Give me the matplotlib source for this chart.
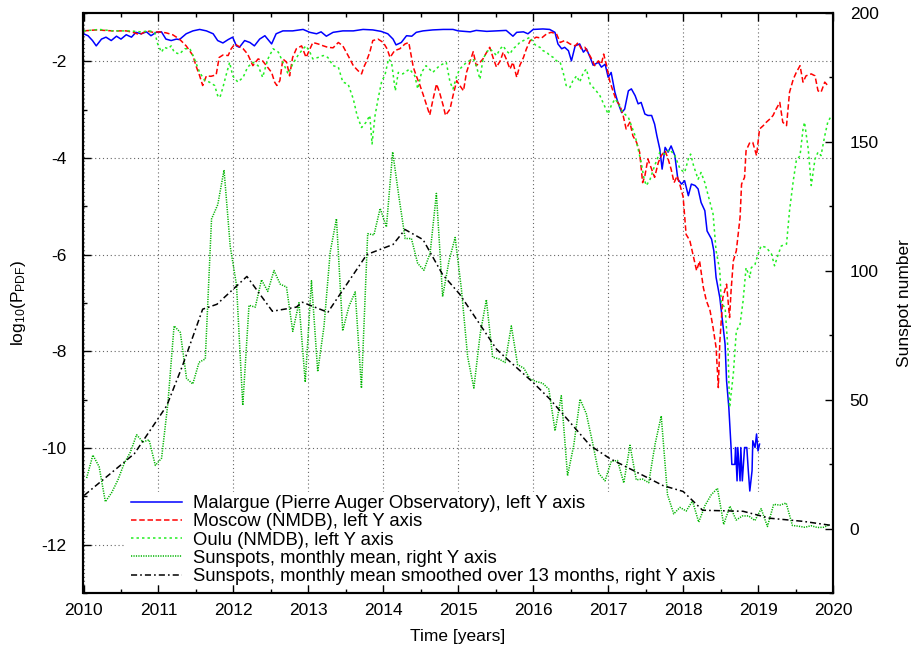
import matplotlib
matplotlib.use('Agg')
import matplotlib.pyplot as plt
from matplotlib.ticker import MultipleLocator, FuncFormatter
from matplotlib.patches import Rectangle
import numpy as np

plt.rcParams['font.family'] = ['Liberation Sans', 'DejaVu Sans']
plt.rcParams['mathtext.fontset'] = 'custom'
plt.rcParams['mathtext.rm'] = 'Liberation Sans'
plt.rcParams['mathtext.default'] = 'regular'

# ---------------- data ----------------
mal_t = [2010.00, 2010.06, 2010.12, 2010.17, 2010.24, 2010.30, 2010.37, 2010.44, 2010.50, 2010.57,
         2010.64, 2010.70, 2010.77, 2010.84, 2010.90, 2010.97, 2011.04, 2011.10, 2011.17, 2011.24,
         2011.28, 2011.37, 2011.46, 2011.55, 2011.64, 2011.73, 2011.79, 2011.86, 2011.93, 2011.99,
         2012.04, 2012.08, 2012.15, 2012.22, 2012.28, 2012.35, 2012.42, 2012.51, 2012.57, 2012.66,
         2012.79, 2012.93, 2013.02, 2013.11, 2013.17, 2013.24, 2013.33, 2013.46, 2013.60, 2013.73,
         2013.86, 2013.97, 2014.06, 2014.13, 2014.17, 2014.24, 2014.31, 2014.38, 2014.44, 2014.53,
         2014.66, 2014.80, 2014.93, 2015.00, 2015.16, 2015.24, 2015.38, 2015.51, 2015.64, 2015.73,
         2015.78, 2015.87, 2015.93, 2016.00, 2016.13, 2016.22, 2016.29, 2016.33, 2016.38, 2016.42,
         2016.47, 2016.51, 2016.56, 2016.62, 2016.67, 2016.71, 2016.76, 2016.80, 2016.87, 2016.91,
         2016.96, 2017.00, 2017.04, 2017.09, 2017.13, 2017.18, 2017.22, 2017.27, 2017.31, 2017.36,
         2017.40, 2017.44, 2017.49, 2017.53, 2017.58, 2017.62, 2017.65, 2017.69, 2017.72, 2017.76,
         2017.80, 2017.84, 2017.89, 2017.93, 2017.98, 2018.02, 2018.07, 2018.11, 2018.16, 2018.20,
         2018.24, 2018.29, 2018.32, 2018.38, 2018.41, 2018.44, 2018.49, 2018.53, 2018.56, 2018.58,
         2018.61, 2018.64, 2018.65, 2018.69, 2018.70, 2018.72, 2018.73, 2018.76, 2018.77, 2018.79,
         2018.82, 2018.85, 2018.87, 2018.89, 2018.92, 2018.93, 2018.96, 2018.98, 2019.00, 2019.02]
mal_v = [-1.43, -1.47, -1.57, -1.68, -1.54, -1.50, -1.57, -1.48, -1.54, -1.45,
         -1.50, -1.40, -1.43, -1.39, -1.47, -1.40, -1.39, -1.54, -1.57, -1.54,
         -1.55, -1.43, -1.37, -1.34, -1.37, -1.43, -1.57, -1.62, -1.55, -1.50,
         -1.68, -1.71, -1.57, -1.61, -1.68, -1.54, -1.47, -1.64, -1.43, -1.37,
         -1.37, -1.34, -1.40, -1.43, -1.39, -1.48, -1.40, -1.37, -1.37, -1.34,
         -1.35, -1.38, -1.43, -1.54, -1.66, -1.61, -1.47, -1.48, -1.40, -1.37,
         -1.35, -1.34, -1.34, -1.37, -1.39, -1.36, -1.38, -1.37, -1.36, -1.48,
         -1.40, -1.39, -1.43, -1.34, -1.33, -1.34, -1.40, -1.64, -1.74, -1.71,
         -1.78, -1.99, -1.68, -1.64, -1.81, -1.74, -1.92, -2.08, -2.02, -2.12,
         -2.06, -2.33, -2.23, -2.64, -2.85, -3.06, -2.99, -2.61, -2.57, -2.71,
         -2.88, -2.85, -3.09, -3.12, -3.12, -3.30, -3.54, -3.82, -4.23, -3.78,
         -3.88, -3.75, -3.95, -4.44, -4.54, -4.47, -4.78, -4.54, -4.57, -4.64,
         -4.92, -5.09, -5.51, -5.68, -5.92, -6.47, -6.89, -7.44, -7.85, -8.61,
         -9.16, -9.99, -10.34, -10.34, -9.99, -10.68, -9.99, -10.68, -9.99, -10.68,
         -9.99, -9.99, -10.47, -10.89, -10.47, -9.85, -9.99, -9.71, -10.06, -9.92]

mos_t = [2010.00, 2010.17, 2010.39, 2010.57, 2010.66, 2010.75, 2010.84, 2010.93, 2011.01, 2011.10,
         2011.19, 2011.28, 2011.37, 2011.46, 2011.50, 2011.55, 2011.59, 2011.64, 2011.70, 2011.77,
         2011.81, 2011.86, 2011.93, 2011.97, 2012.02, 2012.06, 2012.13, 2012.19, 2012.26, 2012.33,
         2012.39, 2012.44, 2012.51, 2012.55, 2012.58, 2012.62, 2012.66, 2012.71, 2012.75, 2012.79,
         2012.84, 2012.91, 2012.97, 2013.06, 2013.13, 2013.20, 2013.26, 2013.33, 2013.40, 2013.46,
         2013.53, 2013.60, 2013.66, 2013.71, 2013.74, 2013.77, 2013.82, 2013.86, 2013.93, 2014.00,
         2014.05, 2014.09, 2014.15, 2014.22, 2014.29, 2014.34, 2014.40, 2014.44, 2014.49, 2014.53,
         2014.58, 2014.62, 2014.66, 2014.71, 2014.75, 2014.80, 2014.83, 2014.89, 2014.93, 2014.98,
         2015.02, 2015.07, 2015.11, 2015.16, 2015.20, 2015.24, 2015.29, 2015.33, 2015.38, 2015.42,
         2015.47, 2015.51, 2015.56, 2015.60, 2015.64, 2015.69, 2015.73, 2015.78, 2015.82, 2015.87,
         2015.91, 2015.96, 2016.00, 2016.04, 2016.11, 2016.18, 2016.24, 2016.31, 2016.36, 2016.42,
         2016.49, 2016.56, 2016.60, 2016.64, 2016.69, 2016.73, 2016.78, 2016.82, 2016.87, 2016.91,
         2016.94, 2016.98, 2017.02, 2017.07, 2017.11, 2017.16, 2017.20, 2017.24, 2017.29, 2017.33,
         2017.38, 2017.42, 2017.46, 2017.49, 2017.53, 2017.58, 2017.62, 2017.67, 2017.71, 2017.76,
         2017.80, 2017.84, 2017.88, 2017.92, 2017.96, 2018.00, 2018.04, 2018.09, 2018.13, 2018.18,
         2018.22, 2018.27, 2018.31, 2018.36, 2018.40, 2018.44, 2018.47, 2018.49, 2018.53, 2018.58,
         2018.62, 2018.64, 2018.67, 2018.71, 2018.76, 2018.78, 2018.82, 2018.84, 2018.89, 2018.93,
         2018.98, 2019.02, 2019.07, 2019.11, 2019.16, 2019.20, 2019.24, 2019.29, 2019.33, 2019.38,
         2019.42, 2019.47, 2019.51, 2019.56, 2019.60, 2019.64, 2019.71, 2019.76, 2019.80, 2019.84,
         2019.89, 2019.93]
mos_v = [-1.37, -1.35, -1.37, -1.37, -1.40, -1.45, -1.37, -1.40, -1.39, -1.41,
         -1.45, -1.54, -1.68, -1.88, -2.09, -2.30, -2.50, -2.30, -2.31, -2.28,
         -1.92, -1.87, -1.88, -1.74, -1.64, -1.68, -1.74, -1.85, -2.09, -1.95,
         -1.99, -2.09, -2.23, -2.43, -2.50, -2.40, -1.95, -2.02, -2.30, -1.92,
         -1.74, -1.68, -1.92, -1.61, -1.64, -1.68, -1.71, -1.72, -1.61, -1.68,
         -1.88, -2.09, -2.19, -2.26, -2.12, -2.02, -1.81, -1.57, -1.54, -1.61,
         -1.74, -1.92, -1.78, -1.74, -1.64, -1.61, -2.12, -2.30, -2.50, -2.68,
         -2.92, -3.11, -2.81, -2.47, -2.64, -2.92, -3.12, -2.99, -2.71, -2.40,
         -2.50, -2.61, -2.23, -1.99, -1.80, -2.09, -2.02, -1.95, -1.81, -1.71,
         -1.95, -2.12, -1.99, -1.81, -1.95, -2.16, -2.02, -2.33, -2.09, -1.92,
         -1.74, -1.57, -1.54, -1.50, -1.52, -1.43, -1.40, -1.43, -1.61, -1.57,
         -1.64, -1.68, -1.61, -1.74, -1.71, -1.81, -1.95, -2.09, -1.99, -2.06,
         -1.85, -2.09, -2.40, -2.64, -2.81, -2.92, -3.12, -3.40, -3.26, -3.54,
         -3.68, -3.88, -4.51, -4.37, -4.02, -4.23, -4.40, -4.09, -3.95, -3.85,
         -4.02, -4.23, -4.51, -4.37, -4.57, -4.80, -5.58, -5.71, -5.99, -6.33,
         -6.13, -6.68, -6.95, -7.16, -7.51, -7.92, -8.75, -7.80, -6.89, -6.61,
         -7.30, -6.75, -6.13, -5.92, -5.23, -4.54, -4.40, -3.85, -3.68, -3.68,
         -3.95, -3.40, -3.33, -3.26, -3.19, -3.12, -2.99, -2.85, -3.26, -3.33,
         -2.64, -2.37, -2.23, -2.09, -2.43, -2.30, -2.26, -2.30, -2.61, -2.64,
         -2.43, -2.50]

oul_t = [2010.00, 2010.21, 2010.39, 2010.61, 2010.77, 2010.88, 2010.95, 2010.99, 2011.04, 2011.08,
         2011.13, 2011.17, 2011.21, 2011.28, 2011.35, 2011.42, 2011.48, 2011.55, 2011.62, 2011.68,
         2011.75, 2011.79, 2011.82, 2011.86, 2011.90, 2011.95, 2011.99, 2012.06, 2012.13, 2012.19,
         2012.26, 2012.33, 2012.39, 2012.46, 2012.53, 2012.60, 2012.66, 2012.73, 2012.79, 2012.86,
         2012.93, 2012.97, 2013.02, 2013.06, 2013.13, 2013.20, 2013.26, 2013.33, 2013.40, 2013.46,
         2013.53, 2013.60, 2013.65, 2013.71, 2013.77, 2013.82, 2013.85, 2013.89, 2013.93, 2013.98,
         2014.02, 2014.07, 2014.11, 2014.16, 2014.20, 2014.26, 2014.35, 2014.42, 2014.46, 2014.51,
         2014.57, 2014.66, 2014.75, 2014.84, 2014.89, 2014.93, 2014.98, 2015.02, 2015.11, 2015.20,
         2015.24, 2015.29, 2015.33, 2015.38, 2015.42, 2015.47, 2015.51, 2015.56, 2015.60, 2015.64,
         2015.69, 2015.73, 2015.78, 2015.82, 2015.87, 2015.91, 2015.96, 2016.00, 2016.04, 2016.09,
         2016.13, 2016.18, 2016.22, 2016.27, 2016.31, 2016.36, 2016.40, 2016.44, 2016.49, 2016.53,
         2016.58, 2016.62, 2016.67, 2016.71, 2016.76, 2016.80, 2016.84, 2016.89, 2016.93, 2016.97,
         2017.00, 2017.04, 2017.09, 2017.13, 2017.18, 2017.22, 2017.27, 2017.31, 2017.36, 2017.40,
         2017.44, 2017.48, 2017.51, 2017.56, 2017.62, 2017.69, 2017.76, 2017.82, 2017.89, 2017.96,
         2018.02, 2018.07, 2018.10, 2018.14, 2018.20, 2018.24, 2018.29, 2018.36, 2018.40, 2018.44,
         2018.49, 2018.51, 2018.56, 2018.60, 2018.62, 2018.67, 2018.71, 2018.76, 2018.80, 2018.84,
         2018.89, 2018.91, 2018.96, 2019.00, 2019.04, 2019.11, 2019.18, 2019.22, 2019.27, 2019.31,
         2019.38, 2019.42, 2019.47, 2019.51, 2019.56, 2019.60, 2019.62, 2019.67, 2019.71, 2019.76,
         2019.80, 2019.84, 2019.89, 2019.93, 2019.98]
oul_v = [-1.37, -1.34, -1.37, -1.37, -1.39, -1.37, -1.40, -1.64, -1.81, -1.71,
         -1.74, -1.68, -1.81, -1.85, -1.74, -1.74, -1.95, -2.23, -2.40, -2.43,
         -2.50, -2.71, -2.75, -2.54, -2.30, -2.02, -2.30, -2.43, -2.33, -2.12,
         -2.02, -2.09, -2.33, -1.95, -1.74, -1.81, -2.02, -2.26, -2.06, -1.88,
         -1.74, -1.68, -1.81, -1.95, -1.92, -1.88, -1.92, -2.09, -2.12, -2.43,
         -2.47, -2.78, -3.12, -3.37, -3.26, -3.12, -3.71, -3.12, -2.78, -2.40,
         -2.30, -1.95, -2.02, -2.61, -2.23, -2.26, -2.16, -2.30, -2.57, -2.23,
         -2.09, -2.23, -2.09, -2.02, -2.43, -2.57, -2.30, -2.16, -2.02, -1.95,
         -2.09, -2.37, -1.95, -1.81, -1.74, -1.81, -1.88, -1.74, -1.68, -1.78,
         -1.85, -1.74, -1.68, -1.61, -1.57, -1.54, -1.50, -1.61, -1.68, -1.71,
         -1.78, -1.81, -1.88, -1.92, -1.99, -2.02, -2.23, -2.50, -2.54, -2.40,
         -2.30, -2.43, -2.23, -2.16, -2.47, -2.54, -2.61, -2.71, -2.85, -2.99,
         -3.09, -2.92, -2.78, -2.85, -3.02, -3.09, -3.16, -3.33, -3.54, -3.82,
         -4.09, -4.44, -4.57, -4.44, -4.16, -3.88, -3.92, -3.82, -3.95, -4.23,
         -4.30, -4.02, -3.92, -4.16, -4.44, -4.30, -4.51, -4.92, -5.16, -5.92,
         -6.33, -7.02, -7.09, -7.99, -9.16, -8.47, -7.58, -7.44, -6.96, -6.27,
         -6.47, -6.27, -6.20, -5.99, -5.82, -5.85, -5.99, -6.23, -5.99, -5.82,
         -5.78, -5.09, -4.47, -4.06, -3.95, -3.40, -3.26, -3.82, -4.57, -4.02,
         -3.88, -3.95, -3.54, -3.26, -3.12]

# monthly mean total sunspot number, Jan 2010 .. Dec 2019
ssn_monthly = [19.6, 28.5, 24.0, 10.4, 13.9, 18.8, 25.2, 29.6, 36.4, 33.6, 34.4, 24.5,
               27.3, 48.3, 78.6, 76.1, 58.2, 56.1, 64.5, 65.8, 120.1, 125.7, 139.1, 109.3,
               94.4, 47.8, 86.6, 85.9, 96.5, 92.0, 100.1, 94.8, 93.7, 76.5, 87.6, 56.8,
               96.1, 60.9, 78.3, 107.3, 120.2, 76.7, 86.2, 91.8, 54.5, 114.4, 113.9, 124.2,
               117.0, 146.1, 128.7, 112.5, 112.5, 102.9, 100.2, 106.9, 130.0, 90.0, 103.6, 112.9,
               93.0, 66.7, 54.5, 75.3, 88.8, 66.5, 65.8, 64.4, 78.6, 63.6, 62.2, 58.0,
               57.0, 56.4, 54.1, 37.9, 51.5, 20.5, 32.4, 50.2, 44.6, 33.4, 21.4, 18.5,
               26.1, 26.4, 17.7, 32.3, 18.9, 19.2, 17.8, 32.6, 43.7, 13.2, 5.7, 8.2,
               6.8, 10.7, 2.5, 8.9, 13.1, 15.6, 1.6, 8.7, 3.3, 4.9, 4.9, 3.1,
               7.7, 0.8, 9.4, 9.1, 9.9, 1.2, 0.9, 0.5, 1.1, 0.4, 0.5, 1.5]
ssn_month_t = [2010 + (i + 0.5) / 12.0 for i in range(len(ssn_monthly))]

sm_t = [2010.01, 2010.52, 2010.68, 2011.11, 2011.32, 2011.59, 2011.78, 2012.18, 2012.52, 2012.84,
        2012.92, 2013.26, 2013.78, 2014.13, 2014.29, 2014.53, 2014.79, 2015.02, 2015.51, 2015.65,
        2015.99, 2016.22, 2016.76, 2017.02, 2017.73, 2018.00, 2018.26, 2018.80, 2019.16, 2019.60,
        2019.96]
sm_v = [12.9, 25.2, 29.1, 47.6, 63.1, 85.1, 87.0, 97.8, 84.3, 85.9,
        87.8, 83.9, 106.3, 110.2, 116.0, 112.1, 98.6, 90.9, 69.6, 65.8,
        56.9, 50.3, 32.2, 27.2, 16.7, 14.4, 7.1, 6.7, 4.0, 2.8,
        1.3]

labels = ["Malargue (Pierre Auger Observatory), left Y axis",
          "Moscow (NMDB), left Y axis",
          "Oulu (NMDB), left Y axis",
          "Sunspots, monthly mean, right Y axis",
          "Sunspots, monthly mean smoothed over 13 months, right Y axis"]

# ---------------- figure ----------------
FS = 12.5
LFS = 13.3
fig = plt.figure(figsize=(9.2, 6.53), dpi=100)
ax = fig.add_axes([83.5 / 920, 60 / 653, 749.5 / 920, 580 / 653])
ax2 = ax.twinx()

ax.set_xlim(2010, 2020)
ax.set_ylim(-13, -1)
ax2.set_ylim(-25, 200)

l1, = ax.plot(mal_t, mal_v, color='#0000ff', lw=1.1, zorder=2.0)
l2, = ax.plot(mos_t, mos_v, color='#ff0000', lw=1.1, dashes=(3.6, 1.8), zorder=2.1)
l3, = ax.plot(oul_t, oul_v, color='#22ee22', lw=1.1, dashes=(1.6, 2.0), zorder=2.2)
l4, = ax2.plot(ssn_month_t, ssn_monthly, color='#00b400', lw=1.1, dashes=(0.8, 0.8), zorder=2.3)
l5, = ax2.plot(sm_t, sm_v, color='black', lw=1.1, dashes=(4.0, 2.0, 1.1, 2.0), zorder=2.4)

# grid
ax.grid(True, which='major', color='#666666', lw=0.8, dashes=(1, 2.5))
# white key box hiding the grid behind the legend
ax.add_patch(Rectangle((0.0547, 0.014), 1.0 - 0.0547, 0.160, transform=ax.transAxes,
                       facecolor='white', edgecolor='none', zorder=1.7))

# ticks
ax.xaxis.set_major_locator(MultipleLocator(1))
ax.xaxis.set_minor_locator(MultipleLocator(0.5))
ax.yaxis.set_major_locator(MultipleLocator(2))
ax.yaxis.set_minor_locator(MultipleLocator(1))
ax2.yaxis.set_major_locator(MultipleLocator(50))
ax2.yaxis.set_minor_locator(MultipleLocator(25))
ax.tick_params(which='both', direction='in', top=True, right=False, width=1.0, labelsize=FS)
ax.tick_params(which='major', length=6)
ax.tick_params(which='minor', length=3)
ax.tick_params(axis='x', pad=7)
ax.tick_params(axis='y', pad=12)
ax2.tick_params(which='both', direction='in', width=1.0, labelsize=FS, pad=12)
ax2.tick_params(which='major', length=6)
ax2.tick_params(which='minor', length=3)
ax.yaxis.set_major_formatter(FuncFormatter(lambda v, p: '%d' % v))

for a in (ax, ax2):
    for s in a.spines.values():
        s.set_linewidth(1.5)

fig.text(458 / 920, 1 - 637 / 653, 'Time [years]', ha='center', va='center', fontsize=FS)
fig.text(18 / 920, 1 - 303 / 653, r'log$_{10}$(P$_{PDF}$)', ha='center', va='center',
         rotation=90, fontsize=FS)
fig.text(905 / 920, 1 - 303 / 653, 'Sunspot number', ha='center', va='center',
         rotation=90, fontsize=FS)

leg = ax2.legend([l1, l2, l3, l4, l5], labels, loc='upper left',
                 bbox_to_anchor=(0.064, 0.169), frameon=False, fontsize=LFS,
                 handlelength=2.75, handletextpad=0.58, labelspacing=0.07,
                 borderpad=0, borderaxespad=0)

fig.savefig('out.png', dpi=100)
